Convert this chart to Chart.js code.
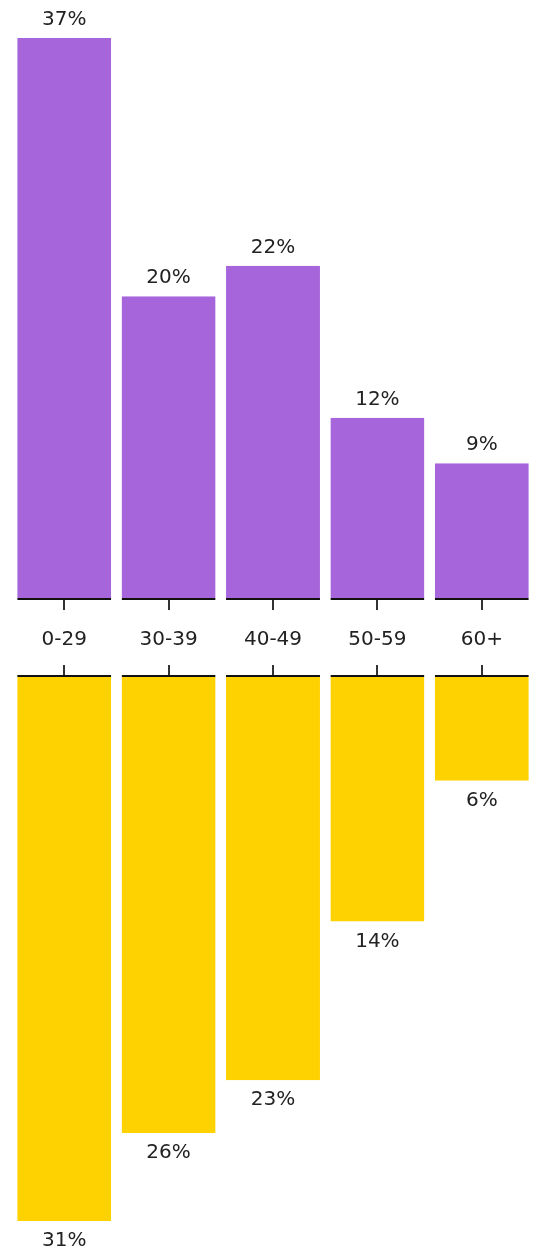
<!DOCTYPE html>
<html>
<head>
<meta charset="utf-8">
<script src="https://cdn.jsdelivr.net/npm/chart.js@4"></script>
<style>
  body { margin: 0; background: #fff; }
  #wrap { position: relative; width: 539px; height: 1251px; overflow: hidden; }
  canvas { position: absolute; left: 0; }
  #topChart { top: 0; }
  #bottomChart { top: 665px; }
</style>
</head>
<body>
<div id="wrap">
  <canvas id="topChart" width="539" height="670"></canvas>
  <canvas id="bottomChart" width="539" height="586"></canvas>
</div>
<script>
const ageGroups = ['0-29', '30-39', '40-49', '50-59', '60+'];
const topValues = [37, 20, 22, 12, 9];
const bottomValues = [31, 26, 23, 14, 6];

const purple = '#A765DB';
const yellow = '#FED200';
const textColor = '#222';
const fontFamily = '"DejaVu Sans", Verdana, sans-serif';

// writes the percentage next to the end of each bar
const valueLabels = {
    id: 'valueLabels',
    afterDatasetsDraw(chart, args, opts) {
        const ctx = chart.ctx;
        const meta = chart.getDatasetMeta(0);
        const values = chart.data.datasets[0].data;
        ctx.save();
        ctx.font = '20px ' + fontFamily;
        ctx.fillStyle = textColor;
        ctx.textAlign = 'center';
        ctx.textBaseline = 'middle';
        meta.data.forEach((bar, i) => {
            ctx.fillText(values[i] + '%', bar.x, bar.y + opts.offset);
        });
        ctx.restore();
    }
};

function makeChart(id, values, color, yMax, axisPos, showLabels, border, labelOffset) {
    return new Chart(document.getElementById(id), {
        type: 'bar',
        data: {
            labels: ageGroups,
            datasets: [{
                data: values,
                backgroundColor: color,
                borderColor: '#111',
                borderWidth: border,
                borderSkipped: false,
                categoryPercentage: 1,
                barPercentage: 0.9
            }]
        },
        options: {
            responsive: false,
            animation: false,
            devicePixelRatio: 1,
            layout: { padding: { left: 12, right: 5, top: 0, bottom: 0 } },
            plugins: {
                legend: { display: false },
                tooltip: { enabled: false },
                valueLabels: { offset: labelOffset }
            },
            scales: {
                x: {
                    position: axisPos,
                    border: { display: false },
                    grid: {
                        offset: false,
                        drawOnChartArea: false,
                        drawTicks: true,
                        tickLength: 10,
                        color: '#333',
                        lineWidth: 2
                    },
                    ticks: {
                        display: showLabels,
                        color: textColor,
                        padding: 18,
                        font: { family: fontFamily, size: 20 }
                    }
                },
                y: {
                    display: false,
                    min: 0,
                    max: yMax,
                    reverse: axisPos === 'top'
                }
            }
        },
        plugins: [valueLabels]
    });
}

makeChart('topChart', topValues, purple, 39.5, 'bottom', true, { bottom: 2 }, -18);
makeChart('bottomChart', bottomValues, yellow, 32.7, 'top', false, { top: 2 }, 20);
</script>
</body>
</html>
